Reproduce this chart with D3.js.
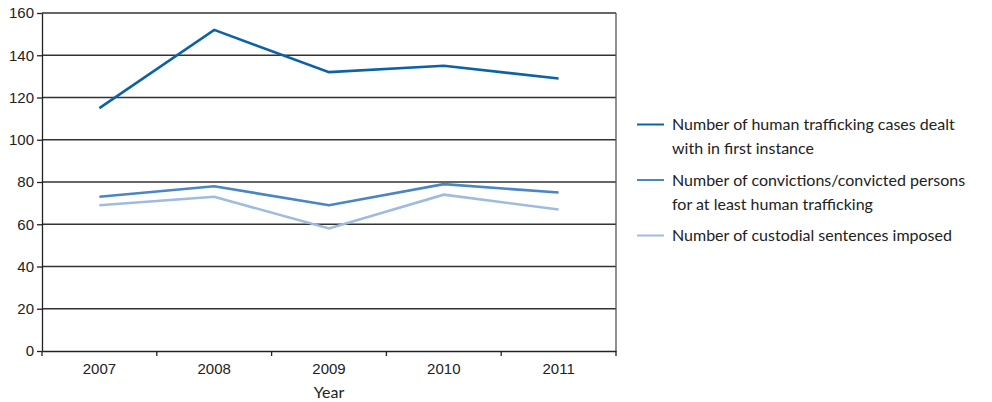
<!DOCTYPE html>
<html><head><meta charset="utf-8">
<script src="https://cdn.jsdelivr.net/npm/d3@7"></script>
<style>body{margin:0;background:#fff}svg{display:block;font-family:Lato,"Open Sans",sans-serif}</style>
</head><body><svg id="c" width="992" height="402"></svg>
<script>
const years = ["2007","2008","2009","2010","2011"];
const cases = [115, 152, 132, 135, 129];
const convictions = [73, 78, 69, 79, 75];
const custodial = [69, 73, 58, 74, 67];
const yTicks = [0,20,40,60,80,100,120,140,160];
const seriesNames = [
  ["Number of human trafficking cases dealt","with in first instance"],
  ["Number of convictions/convicted persons","for at least human trafficking"],
  ["Number of custodial sentences imposed"]
];
const colors = ["#0b62a6","#4a86c2","#9fbbe0"];
const series = [cases, convictions, custodial];

const svg = d3.select("#c");
const L=42,R=616,T=13,B=351;
const x = d3.scaleBand().domain(years).range([L,R]);
const y = d3.scaleLinear().domain([0,160]).range([B,T]);

svg.append("g").selectAll("line").data(yTicks.filter(d=>d>0)).join("line")
  .attr("x1",L).attr("x2",R).attr("y1",d=>y(d)).attr("y2",d=>y(d))
  .attr("stroke","#333").attr("stroke-width",1.3);
svg.append("line").attr("x1",R).attr("x2",R).attr("y1",T).attr("y2",B).attr("stroke","#555").attr("stroke-width",1.3);

const ya = svg.append("g").attr("transform",`translate(${L},0)`)
  .call(d3.axisLeft(y).tickValues(yTicks).tickSize(5).tickSizeOuter(0));
ya.select(".domain").attr("stroke","#222").attr("stroke-width",1.3);
ya.selectAll(".tick line").attr("stroke","#222").attr("stroke-width",1.3);
ya.selectAll("text").attr("font-size",15).attr("fill","#222").attr("x",-8);

const xa = svg.append("g").attr("transform",`translate(0,${B})`)
  .call(d3.axisBottom(x).tickSize(0).tickPadding(12));
xa.select(".domain").attr("stroke","#222").attr("stroke-width",1.3);
xa.selectAll("text").attr("font-size",15).attr("fill","#222");
const bounds = years.map(d=>x(d)).concat([R]);
svg.append("g").selectAll("line").data(bounds).join("line")
  .attr("x1",d=>d).attr("x2",d=>d).attr("y1",B).attr("y2",B+5)
  .attr("stroke","#222").attr("stroke-width",1.3);

svg.append("text").attr("x",x("2009")+x.bandwidth()/2).attr("y",398)
  .attr("text-anchor","middle").attr("font-size",16).attr("fill","#222").text("Year");

const line = d3.line().x((d,i)=>x(years[i])+x.bandwidth()/2).y(d=>y(d));
series.forEach((s,k)=>{
  svg.append("path").datum(s).attr("d",line).attr("fill","none")
    .attr("stroke",colors[k]).attr("stroke-width",2.6).attr("stroke-linejoin","miter");
});

const rowsY = [124.5,180,235.5];
seriesNames.forEach((names,k)=>{
  const g = svg.append("g");
  g.append("line").attr("x1",637).attr("x2",664).attr("y1",rowsY[k]).attr("y2",rowsY[k])
    .attr("stroke",colors[k]).attr("stroke-width",2);
  names.forEach((t,j)=>{
    g.append("text").attr("x",672).attr("y",rowsY[k]+5.5+j*24).attr("font-size",16)
      .attr("fill","#222").text(t);
  });
});
</script></body></html>
